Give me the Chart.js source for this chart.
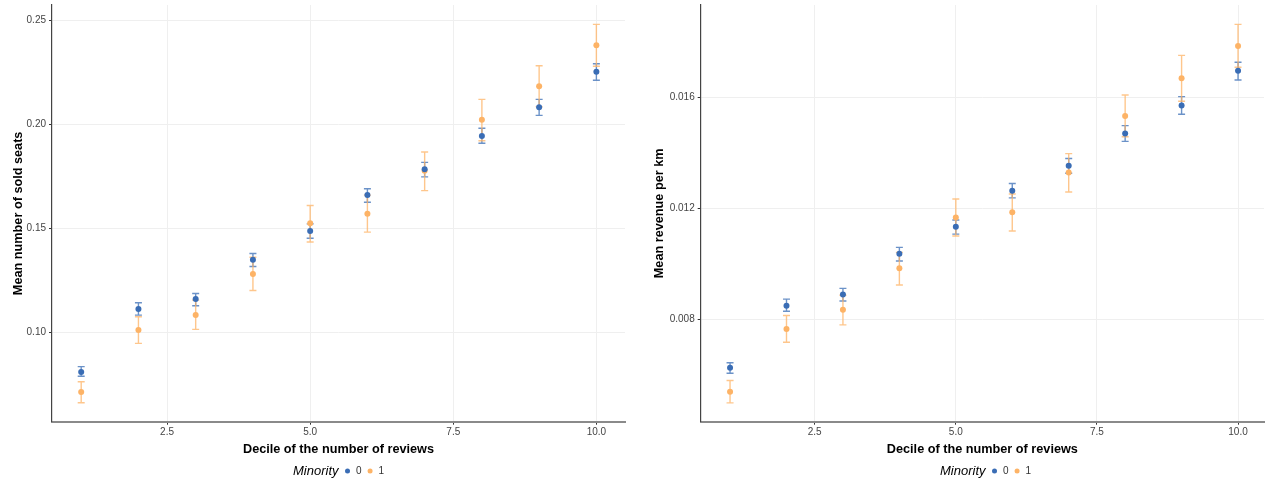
<!DOCTYPE html>
<html>
<head>
<meta charset="utf-8">
<script src="https://cdn.jsdelivr.net/npm/chart.js@4/dist/chart.umd.min.js"></script>
<style>
  body { margin: 0; background: #fff; }
  .panel { position: absolute; top: 0; width: 634px; height: 483px; }
  #left-panel { left: 0; }
  #right-panel { left: 634px; }
</style>
</head>
<body>
<div class="panel" id="left-panel"><canvas id="seatsChart"></canvas></div>
<div class="panel" id="right-panel"><canvas id="revenueChart"></canvas></div>
<script>
// Données
const deciles = [1, 2, 3, 4, 5, 6, 7, 8, 9, 10];
const groupLabels = ['0', '1'];
const xTicks = [2.5, 5, 7.5, 10];

// Sièges vendus (gauche)
const seatsMean0 = [0.0808, 0.1111, 0.1159, 0.1348, 0.1487, 0.1660, 0.1784, 0.1944, 0.2082, 0.2253];
const seatsLow0  = [0.0788, 0.1082, 0.1127, 0.1316, 0.1452, 0.1625, 0.1747, 0.1909, 0.2043, 0.2212];
const seatsHigh0 = [0.0834, 0.1141, 0.1186, 0.1378, 0.1521, 0.1690, 0.1817, 0.1981, 0.2120, 0.2291];
const seatsMean1 = [0.0712, 0.1010, 0.1083, 0.1280, 0.1524, 0.1570, 0.1777, 0.2022, 0.2183, 0.2380];
const seatsLow1  = [0.0660, 0.0946, 0.1013, 0.1200, 0.1434, 0.1481, 0.1681, 0.1921, 0.2085, 0.2279];
const seatsHigh1 = [0.0761, 0.1074, 0.1154, 0.1360, 0.1609, 0.1659, 0.1867, 0.2120, 0.2282, 0.2481];
const seatsTicks = [0.10, 0.15, 0.20, 0.25];

// Revenu par km (droite)
const revMean0 = [0.00624, 0.00848, 0.00889, 0.01036, 0.01134, 0.01264, 0.01354, 0.01471, 0.01572, 0.01697];
const revLow0  = [0.00604, 0.00828, 0.00865, 0.01010, 0.01107, 0.01238, 0.01327, 0.01442, 0.01540, 0.01664];
const revHigh0 = [0.00642, 0.00872, 0.00911, 0.01059, 0.01158, 0.01290, 0.01380, 0.01499, 0.01604, 0.01728];
const revMean1 = [0.00537, 0.00764, 0.00834, 0.00984, 0.01167, 0.01186, 0.01330, 0.01534, 0.01670, 0.01787];
const revLow1  = [0.00497, 0.00716, 0.00779, 0.00923, 0.01100, 0.01118, 0.01259, 0.01459, 0.01587, 0.01710];
const revHigh1 = [0.00578, 0.00813, 0.00886, 0.01041, 0.01234, 0.01252, 0.01398, 0.01610, 0.01753, 0.01865];
const revTicks = [0.008, 0.012, 0.016];

const BLUE = '#3a6db5';
const ORANGE = '#fdb366';
const BLUE_BAR = 'rgba(58, 109, 181, 0.75)';
const ORANGE_BAR = 'rgba(253, 179, 102, 0.75)';
const FONT = '"Liberation Sans", Arial, sans-serif';

document.addEventListener('DOMContentLoaded', () => {

    // barres d'erreur dessinées avant les points
    const errorBars = {
        id: 'errorBars',
        beforeDatasetsDraw(chart) {
            const ctx = chart.ctx;
            const xs = chart.scales.x, ys = chart.scales.y;
            ctx.save();
            chart.data.datasets.forEach(ds => {
                ctx.strokeStyle = ds.barColor;
                ctx.lineWidth = 1.4;
                ds.data.forEach((p, i) => {
                    const x = xs.getPixelForValue(p.x);
                    const y1 = ys.getPixelForValue(ds.errLow[i]);
                    const y2 = ys.getPixelForValue(ds.errHigh[i]);
                    ctx.beginPath();
                    ctx.moveTo(x, y1); ctx.lineTo(x, y2);
                    ctx.moveTo(x - 3.5, y1); ctx.lineTo(x + 3.5, y1);
                    ctx.moveTo(x - 3.5, y2); ctx.lineTo(x + 3.5, y2);
                    ctx.stroke();
                });
            });
            ctx.restore();
        }
    };

    // légende façon ggplot : "Minority ● 0 ● 1"
    const minorityLegend = {
        id: 'minorityLegend',
        afterDraw(chart, args, opts) {
            const ctx = chart.ctx;
            const y = 471;
            let x = opts.startX;
            ctx.save();
            ctx.textBaseline = 'middle';
            ctx.textAlign = 'left';
            ctx.fillStyle = '#000';
            ctx.font = 'italic 13px ' + FONT;
            ctx.fillText('Minority', x, y);
            x += ctx.measureText('Minority').width + 9;
            ctx.font = '10px ' + FONT;
            chart.data.datasets.forEach(ds => {
                ctx.fillStyle = ds.backgroundColor;
                ctx.beginPath();
                ctx.arc(x, y, 2.5, 0, Math.PI * 2);
                ctx.fill();
                ctx.fillStyle = '#333';
                ctx.fillText(ds.label, x + 8.5, y);
                x += 8.5 + ctx.measureText(ds.label).width + 8.5;
            });
            ctx.restore();
        }
    };

    function makeDataset(label, means, low, high, color, barColor) {
        return {
            label: label,
            data: deciles.map((d, i) => ({ x: d, y: means[i] })),
            errLow: low,
            errHigh: high,
            backgroundColor: color,
            barColor: barColor,
            pointRadius: 3,
            borderWidth: 0
        };
    }

    function createChart(canvasId, cfg) {
        const ctx = document.getElementById(canvasId).getContext('2d');
        return new Chart(ctx, {
            type: 'scatter',
            data: {
                datasets: [
                    makeDataset(groupLabels[0], cfg.mean0, cfg.low0, cfg.high0, BLUE, BLUE_BAR),
                    makeDataset(groupLabels[1], cfg.mean1, cfg.low1, cfg.high1, ORANGE, ORANGE_BAR)
                ]
            },
            plugins: [errorBars, minorityLegend],
            options: {
                responsive: true,
                maintainAspectRatio: false,
                animation: false,
                layout: { padding: { top: 5, right: cfg.padRight, bottom: 0, left: 0 } },
                plugins: {
                    legend: { display: false },
                    tooltip: { enabled: false },
                    minorityLegend: { startX: cfg.legendX }
                },
                scales: {
                    x: {
                        type: 'linear',
                        min: cfg.xMin, max: cfg.xMax,
                        afterFit: s => { s.height = 61.3; s.paddingLeft = 0; s.paddingRight = 0; },
                        afterBuildTicks: s => { s.ticks = xTicks.map(v => ({ value: v })); },
                        ticks: {
                            color: '#444', padding: 2,
                            font: { family: FONT, size: 10 },
                            callback: v => v.toFixed(1)
                        },
                        grid: { color: '#efefef', tickColor: '#333', tickLength: 3 },
                        border: { display: true, color: '#8a8a8a', width: 2 },
                        title: {
                            display: true, text: 'Decile of the number of reviews', color: '#000',
                            font: { family: FONT, size: 12.7, weight: 'bold' },
                            padding: { top: 0, bottom: 26 }
                        }
                    },
                    y: {
                        type: 'linear',
                        min: cfg.yMin, max: cfg.yMax,
                        afterFit: s => { s.width = cfg.yWidth; s.paddingTop = 0; s.paddingBottom = 0; },
                        afterBuildTicks: s => { s.ticks = cfg.yTicks.map(v => ({ value: v })); },
                        ticks: {
                            color: '#444', padding: 3,
                            font: { family: FONT, size: 10 },
                            callback: v => v.toFixed(cfg.yDigits)
                        },
                        grid: { color: '#efefef', tickColor: '#333', tickLength: 3 },
                        border: { display: true, color: '#444', width: 1.2 },
                        title: {
                            display: true, text: cfg.yTitle, color: '#000',
                            font: { family: FONT, size: 12.7, weight: 'bold' },
                            padding: { top: cfg.yTitlePad, bottom: 0 }
                        }
                    }
                }
            }
        });
    }

    createChart('seatsChart', {
        mean0: seatsMean0, low0: seatsLow0, high0: seatsHigh0,
        mean1: seatsMean1, low1: seatsLow1, high1: seatsHigh1,
        yTicks: seatsTicks, yDigits: 2, yTitle: 'Mean number of sold seats',
        xMin: 0.49, xMax: 10.5, yMin: 0.0569, yMax: 0.2574,
        yWidth: 52, yTitlePad: 10.5, padRight: 9, legendX: 293
    });

    createChart('revenueChart', {
        mean0: revMean0, low0: revLow0, high0: revHigh0,
        mean1: revMean1, low1: revLow1, high1: revHigh1,
        yTicks: revTicks, yDigits: 3, yTitle: 'Mean revenue per km',
        xMin: 0.48, xMax: 10.46, yMin: 0.00429, yMax: 0.01935,
        yWidth: 66.7, yTitlePad: 18, padRight: 2, legendX: 306
    });
});
</script>
</body>
</html>
